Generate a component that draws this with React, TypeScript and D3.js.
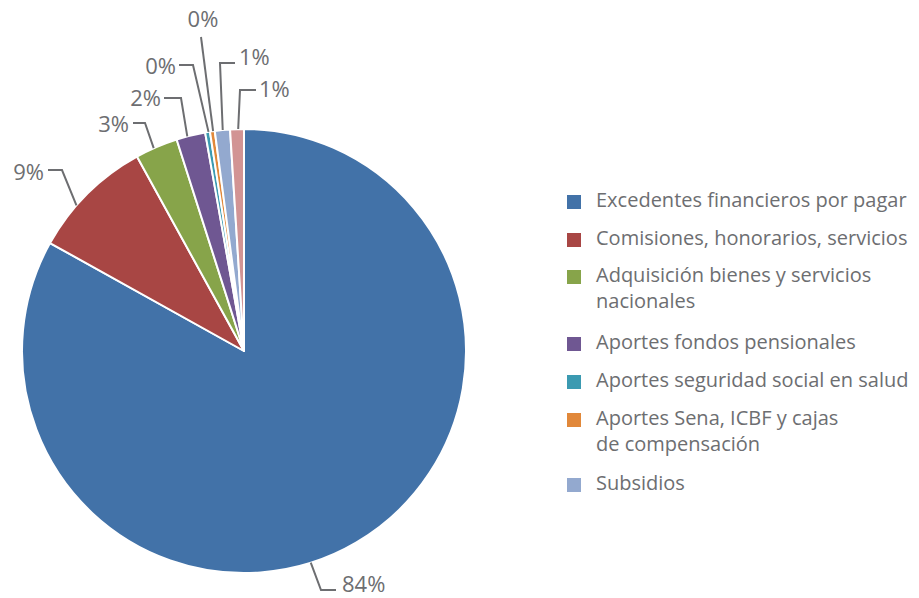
import React, { useEffect, useRef } from 'react';
import * as d3 from 'd3';

// categorías en el orden del gráfico (sentido horario desde las 12)
const categorias = [
  'Excedentes financieros por pagar',
  'Comisiones, honorarios, servicios',
  'Adquisición bienes y servicios nacionales',
  'Aportes fondos pensionales',
  'Aportes seguridad social en salud',
  'Aportes Sena, ICBF y cajas de compensación',
  'Subsidios',
  'Otros',
];
const valores = [83.0, 8.9, 3.1, 2.1, 0.35, 0.35, 1.1, 1.0];
const etiquetas = ['84%', '9%', '3%', '2%', '0%', '0%', '1%', '1%'];
const colores = ['#4272a8', '#a84644', '#87a44a', '#6f5792', '#3b9ab1', '#e1883a', '#93a9cf', '#d29494'];

// líneas de la leyenda (la última categoría no aparece)
const leyenda = [
  ['Excedentes financieros por pagar'],
  ['Comisiones, honorarios, servicios'],
  ['Adquisición bienes y servicios', 'nacionales'],
  ['Aportes fondos pensionales'],
  ['Aportes seguridad social en salud'],
  ['Aportes Sena, ICBF y cajas', 'de compensación'],
  ['Subsidios'],
];

// posición de cada etiqueta: ángulo de anclaje, codo, fin de línea, texto
const rotulos = [
  { ang: 162.5, codo: [321, 590], fin: [336, 590], texto: [342, 586], anchor: 'start' },
  { ang: 311, codo: [62, 170], fin: [48, 170], texto: [44, 174], anchor: 'end' },
  { ang: 336, codo: [145, 123], fin: [133, 123], texto: [129, 126], anchor: 'end' },
  { ang: 345.2, codo: [181, 98], fin: [164, 98], texto: [161, 100], anchor: 'end' },
  { ang: 350.8, codo: [193, 65], fin: [179, 65], texto: [176, 68], anchor: 'end' },
  { ang: 352, codo: [201, 37], fin: [201, 37], texto: [203, 21], anchor: 'middle' },
  { ang: 354.5, codo: [220, 63], fin: [235, 63], texto: [239, 59], anchor: 'start' },
  { ang: 358.5, codo: [240, 90], fin: [256, 90], texto: [259, 91], anchor: 'start' },
];

const W = 919;
const H = 598;
const cx = 244;
const cy = 351;
const R = 222;
const gris = '#6d6e71';
const fuente = '"Open Sans", sans-serif';

const App = () => {
  const svgRef = useRef<SVGSVGElement>(null);

  useEffect(() => {
    document.body.style.margin = '0';
    const svg = d3.select(svgRef.current);
    svg.selectAll('*').remove();

    const datos = categorias.map((c, i) => ({ nombre: c, valor: valores[i], i }));

    const pie = d3.pie<any>().sort(null).value(d => d.valor);
    const arc = d3.arc<any>().innerRadius(0).outerRadius(R);
    const arcs = pie(datos);

    const g = svg.append('g').attr('transform', `translate(${cx},${cy})`);

    g.selectAll('path')
      .data(arcs)
      .join('path')
      .attr('d', arc)
      .attr('fill', d => colores[d.data.i])
      .attr('stroke', 'white')
      .attr('stroke-width', 2)
      .attr('stroke-linejoin', 'round');

    // líneas guía y porcentajes
    const lineas = svg.append('g');
    arcs.forEach((a, i) => {
      const r = rotulos[i];
      let t = (r.ang * Math.PI) / 180;
      t = Math.max(a.startAngle, Math.min(a.endAngle, t));
      const x0 = cx + R * Math.sin(t);
      const y0 = cy - R * Math.cos(t);
      lineas.append('path')
        .attr('d', d3.line()([[x0, y0], r.codo as [number, number], r.fin as [number, number]]))
        .attr('fill', 'none')
        .attr('stroke', gris)
        .attr('stroke-width', 2);
      svg.append('text')
        .attr('x', r.texto[0])
        .attr('y', r.texto[1])
        .attr('dominant-baseline', 'middle')
        .attr('text-anchor', r.anchor)
        .attr('font-family', fuente)
        .attr('font-size', 22)
        .attr('fill', gris)
        .text(etiquetas[i]);
    });

    // leyenda
    const filas = [202, 240, 277, 344, 382, 420, 485];
    const ley = svg.append('g');
    leyenda.forEach((lineasTxt, i) => {
      ley.append('rect')
        .attr('x', 567)
        .attr('y', filas[i] - 7)
        .attr('width', 14)
        .attr('height', 14)
        .attr('fill', colores[i]);
      lineasTxt.forEach((l, j) => {
        ley.append('text')
          .attr('x', 596)
          .attr('y', filas[i] + j * 26)
          .attr('dominant-baseline', 'middle')
          .attr('font-family', fuente)
          .attr('font-size', 20)
          .attr('fill', gris)
          .text(l);
      });
    });
  }, []);

  return <svg ref={svgRef} width={W} height={H} style={{ display: 'block' }} />;
};

export default App;
